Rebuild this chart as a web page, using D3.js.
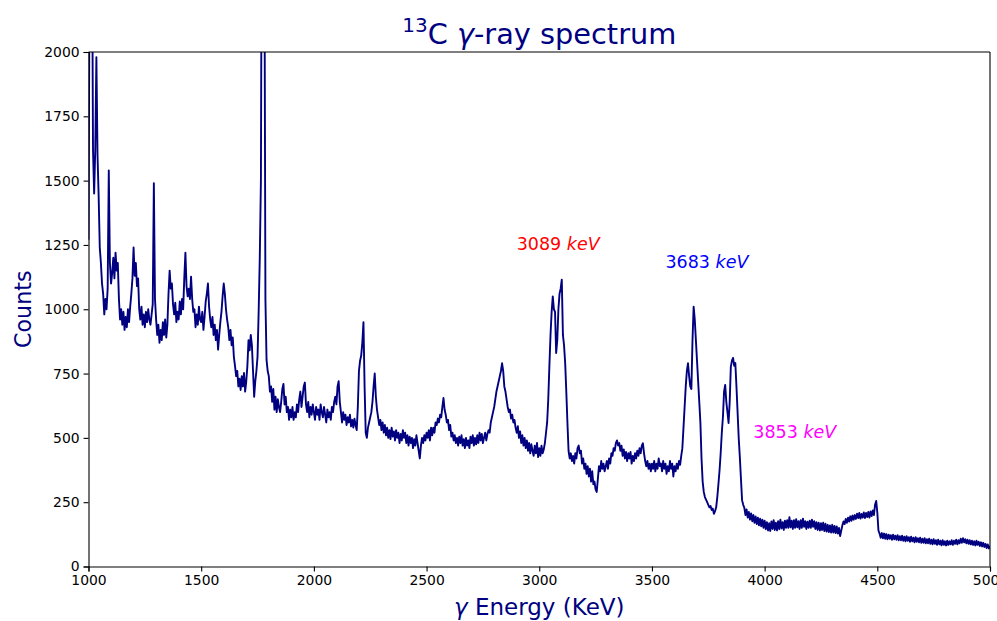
<!DOCTYPE html>
<html>
<head>
<meta charset="utf-8">
<script src="https://cdn.jsdelivr.net/npm/d3@7/dist/d3.min.js"></script>
<style>
  body { margin: 0; background: #fff; }
  svg { display: block; font-family: "DejaVu Sans", sans-serif; }
</style>
</head>
<body>
<svg id="chart" width="997" height="621"></svg>
<script>
// Channel calibration of the detector spectrum
const energyStart = 1000; // keV of the first channel
const energyStep = 5;     // keV per channel

// Counts per channel, in 500 keV blocks (20 channels per row = 100 keV)
const counts1000 = [
  1270, 2400, 2100, 2600, 1620, 1450, 1620, 1980, 1600, 1440, 1240, 1180, 1100, 1060, 980, 1040, 1000, 1080, 1540, 1180,
  1100, 1140, 1200, 1120, 1220, 1150, 1180, 1040, 960, 1000, 940, 990, 920, 970, 930, 1000, 950, 1010, 1060, 1120,
  1240, 1130, 1180, 1090, 1120, 1000, 960, 1010, 940, 980, 930, 990, 950, 1000, 960, 940, 980, 1020, 1490, 1040,
  960, 900, 940, 870, 920, 880, 950, 900, 960, 890, 940, 1060, 1150, 1080, 1100, 1020, 980, 1025, 950, 990,
  960, 1030, 980, 1040, 1000, 1120, 1220, 1090, 1050, 1080, 1040, 1127, 1040, 990, 1000, 930, 980, 940, 1010, 960
];
const counts1500 = [
  950, 990, 920, 970, 1030, 1060, 1100, 1010, 960, 930, 970, 900, 940, 880, 920, 843, 900, 950, 990, 1050,
  1100, 1060, 1000, 960, 930, 880, 920, 860, 890, 815, 780, 740, 760, 700, 730, 686, 740, 700, 752, 680,
  720, 780, 880, 840, 900, 860, 760, 660, 720, 760, 815, 990, 1200, 1500, 3000, 4000, 2600, 1040, 803, 760,
  740, 680, 700, 640, 690, 610, 660, 600, 650, 620, 600, 640, 690, 710, 630, 660, 600, 620, 570, 610,
  580, 620, 570, 600, 580, 630, 600, 650, 680, 620, 660, 700, 715, 630, 600, 640, 580, 620, 590, 630
];
const counts2000 = [
  600, 570, 620, 590, 610, 570, 630, 600, 580, 620, 590, 560, 610, 580, 600, 570, 620, 600, 640, 660,
  630, 700, 720, 640, 600, 560, 600, 570, 590, 550, 580, 560, 590, 545, 570, 540, 575, 550, 530, 620,
  760, 800, 820, 870, 950, 700, 520, 500, 540, 560, 580, 600, 640, 700, 750, 660, 610, 580, 550, 570,
  530, 560, 520, 550, 510, 540, 500, 530, 495, 540, 505, 525, 490, 530, 500, 520, 480, 515, 490, 530,
  500, 520, 480, 510, 470, 505, 480, 500, 460, 495, 470, 510, 480, 450, 420, 470, 500, 480, 510, 490
];
const counts2500 = [
  520, 500, 530, 490, 540, 510, 540, 520, 560, 550, 575, 560, 590, 580, 620, 655, 610, 590, 560, 570,
  530, 550, 505, 520, 490, 510, 480, 500, 470, 505, 480, 510, 470, 495, 460, 500, 470, 490, 460, 505,
  480, 510, 470, 500, 475, 510, 480, 520, 490, 515, 480, 500, 520, 490, 515, 530, 520, 560, 580, 600,
  620, 650, 680, 700, 720, 740, 760, 790, 760, 700, 680, 650, 620, 600, 610, 575, 590, 560, 570, 540,
  520, 545, 500, 525, 480, 510, 470, 500, 460, 490, 450, 480, 440, 475, 450, 430, 470, 440, 480, 425
];
const counts3000 = [
  460, 430, 470, 440, 455, 480, 520, 560, 650, 780, 900, 990, 1050, 1000, 990, 830, 880, 1000, 1060, 1080,
  1115, 900, 860, 791, 680, 560, 450, 420, 440, 410, 430, 400, 440, 420, 460, 470, 440, 450, 400, 420,
  380, 400, 360, 390, 350, 380, 330, 370, 320, 330, 300, 290, 340, 390, 370, 410, 380, 400, 370, 390,
  410, 380, 420, 400, 440, 430, 460, 450, 480, 490, 470, 480, 450, 470, 430, 455, 420, 445, 410, 440,
  420, 445, 400, 430, 410, 440, 420, 450, 430, 460, 440, 470, 479, 440, 410, 390, 410, 380, 400, 370
];
const counts3500 = [
  400, 380, 410, 370, 400, 380, 420, 390, 400, 370, 410, 380, 400, 360, 390, 370, 410, 380, 400, 350,
  390, 370, 400, 380, 410, 395, 430, 460, 540, 620, 700, 760, 790, 740, 700, 690, 880, 1010, 960, 880,
  800, 720, 640, 560, 420, 330, 290, 270, 260, 250, 240, 230, 235, 220, 225, 205, 215, 230, 270, 320,
  374, 440, 520, 581, 680, 706, 640, 600, 558, 640, 776, 800, 811, 780, 791, 700, 600, 500, 425, 340,
  257, 240, 228, 200, 222, 190, 212, 182, 206, 176, 200, 170, 195, 165, 190, 160, 186, 156, 182, 150
];
const counts4000 = [
  178, 145, 172, 140, 168, 138, 175, 146, 180, 142, 170, 140, 176, 145, 182, 148, 172, 142, 178, 150,
  180, 150, 192, 152, 178, 146, 180, 150, 184, 152, 176, 146, 180, 150, 186, 154, 176, 146, 174, 150,
  178, 150, 182, 154, 176, 146, 172, 142, 170, 140, 168, 142, 170, 138, 166, 136, 162, 134, 160, 132,
  162, 132, 158, 130, 156, 128, 150, 118, 140, 160, 175, 165, 185, 170, 190, 175, 195, 178, 198, 182,
  200, 185, 205, 188, 208, 186, 204, 190, 210, 188, 208, 192, 212, 190, 214, 196, 218, 200, 240, 255
];
const counts4500 = [
  210, 140, 128, 112, 130, 110, 128, 108, 126, 106, 124, 108, 122, 104, 124, 106, 120, 104, 122, 102,
  118, 102, 120, 100, 116, 98, 118, 100, 114, 96, 116, 98, 112, 94, 114, 96, 110, 94, 112, 92,
  108, 92, 110, 90, 106, 90, 108, 88, 104, 86, 106, 88, 102, 84, 104, 86, 100, 82, 102, 84,
  98, 82, 100, 84, 98, 86, 102, 84, 100, 88, 104, 86, 102, 90, 108, 92, 110, 94, 106, 90,
  104, 88, 102, 86, 100, 84, 98, 82, 100, 84, 96, 80, 94, 78, 92, 76, 88, 72, 86, 70, 80
];

const xTicks = [1000, 1500, 2000, 2500, 3000, 3500, 4000, 4500, 5000];
const yTicks = [0, 250, 500, 750, 1000, 1250, 1500, 1750, 2000];
const peakEnergies = [3089, 3683, 3853];

const counts = [].concat(counts1000, counts1500, counts2000, counts2500,
                         counts3000, counts3500, counts4000, counts4500);
const spectrum = counts.map((c, i) => ({ e: energyStart + i * energyStep, c }));

// ---- layout ----
const svg = d3.select("#chart");
const x = d3.scaleLinear().domain([1000, 5000]).range([88.5, 990]);
const y = d3.scaleLinear().domain([0, 2000]).range([566.5, 52]);
const ink = "#000080";

svg.append("defs").append("clipPath").attr("id", "plotArea")
  .append("rect")
  .attr("x", x.range()[0]).attr("y", y.range()[1])
  .attr("width", x.range()[1] - x.range()[0])
  .attr("height", y.range()[0] - y.range()[1]);

// spectrum trace
svg.append("path")
  .datum(spectrum)
  .attr("clip-path", "url(#plotArea)")
  .attr("fill", "none")
  .attr("stroke", ink)
  .attr("stroke-width", 1.9)
  .attr("stroke-linejoin", "round")
  .attr("d", d3.line().x(d => x(d.e)).y(d => y(d.c)));

// axes
const xAxis = svg.append("g")
  .attr("transform", `translate(0,${y.range()[0]})`)
  .call(d3.axisBottom(x).tickValues(xTicks).tickFormat(d3.format("d")).tickSizeOuter(0).tickSize(4.9).tickPadding(4));
const yAxis = svg.append("g")
  .attr("transform", `translate(${x.range()[0]},0)`)
  .call(d3.axisLeft(y).tickValues(yTicks).tickFormat(d3.format("d")).tickSizeOuter(0).tickSize(4.9).tickPadding(4));
[xAxis, yAxis].forEach(g => {
  g.select(".domain").attr("stroke", "#000").attr("stroke-width", 1.1);
  g.selectAll(".tick line").attr("stroke", "#000").attr("stroke-width", 1.1);
  g.selectAll(".tick text").attr("fill", "#000")
    .style("font-family", "DejaVu Sans").style("font-size", "13.9px");
});

// top and right frame lines
svg.append("line").attr("x1", x.range()[0]).attr("x2", x.range()[1])
  .attr("y1", y.range()[1]).attr("y2", y.range()[1])
  .attr("stroke", "#000").attr("stroke-width", 1.1);
svg.append("line").attr("x1", x.range()[1]).attr("x2", x.range()[1])
  .attr("y1", y.range()[0]).attr("y2", y.range()[1])
  .attr("stroke", "#000").attr("stroke-width", 1.1);

// title
const title = svg.append("text")
  .attr("x", (x.range()[0] + x.range()[1]) / 2).attr("y", 44)
  .attr("text-anchor", "middle").attr("fill", ink)
  .style("font-size", "28.8px");
title.append("tspan").text("13").style("font-size", "20px").attr("dy", -12);
title.append("tspan").text("C ").attr("dy", 12);
title.append("tspan").text("γ").style("font-style", "italic");
title.append("tspan").text("-ray spectrum");

// axis titles
const xLabel = svg.append("text")
  .attr("x", (x.range()[0] + x.range()[1]) / 2).attr("y", 615)
  .attr("text-anchor", "middle").attr("fill", ink)
  .style("font-size", "23px");
xLabel.append("tspan").text("γ").style("font-style", "italic");
xLabel.append("tspan").text(" Energy (KeV)");

svg.append("text")
  .attr("transform", `translate(31,${(y.range()[0] + y.range()[1]) / 2}) rotate(-90)`)
  .attr("text-anchor", "middle").attr("fill", ink)
  .style("font-size", "22.2px")
  .text("Counts");

// peak annotations, anchored in data coordinates
const annotationSpots = [
  { e: 2900, c: 1230, color: "#ff0000" },
  { e: 3560, c: 1160, color: "#0000ff" },
  { e: 3950, c: 500,  color: "#ff00ff" }
];
peakEnergies.forEach((p, i) => {
  const a = annotationSpots[i];
  const t = svg.append("text")
    .attr("x", x(a.e)).attr("y", y(a.c))
    .attr("fill", a.color)
    .style("font-size", "17.5px");
  t.append("tspan").text(p + " ");
  t.append("tspan").text("keV").style("font-style", "italic");
});
</script>
</body>
</html>
